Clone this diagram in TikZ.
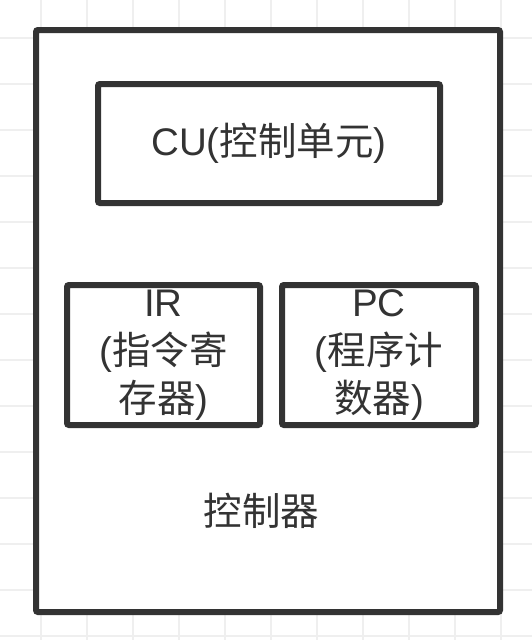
\documentclass[tikz,border=0pt]{standalone}
\usepackage{fontspec}
\setmainfont{Noto Sans CJK SC}
\newfontfamily\latfont{Liberation Sans}
\definecolor{ink}{HTML}{333333}
\definecolor{gridc}{HTML}{EFEFEF}
\begin{document}
\begin{tikzpicture}[x=1pt,y=-1pt,
  box/.style={draw=ink, line width=6pt, rounded corners=2pt, fill=white, inner sep=0pt, text=ink, align=center, font=\fontsize{38.5}{48}\selectfont},
  lbl/.style={text=ink, inner sep=0pt, font=\fontsize{38.5}{48}\selectfont},
  gridline/.style={gridc, line width=1.5pt}]
\useasboundingbox (0,0) rectangle (532,640);
\fill[white] (0,0) rectangle (532,640);
\foreach \i in {0,...,10} \draw[gridline] (41+46*\i,0) -- (41+46*\i,640);
\foreach \j in {0,...,13} \draw[gridline] (0,38+46*\j) -- (532,38+46*\j);
\node[box, minimum width=464pt, minimum height=582pt] (outer) at (268,321) {};
\node[box, minimum width=342pt, minimum height=119pt] (cu) at (269,143.5) {{\latfont CU(}控制单元{\latfont )}};
\node[box, minimum width=193pt, minimum height=140pt] (ir) at (163.5,355) {{\latfont IR}\\{\latfont (}指令寄\\存器{\latfont )}};
\node[box, minimum width=194pt, minimum height=140pt] (pc) at (379,355) {{\latfont PC}\\{\latfont (}程序计\\数器{\latfont )}};
\node[lbl] (ctl) at (261.5,511) {控制器};
\end{tikzpicture}
\end{document}
